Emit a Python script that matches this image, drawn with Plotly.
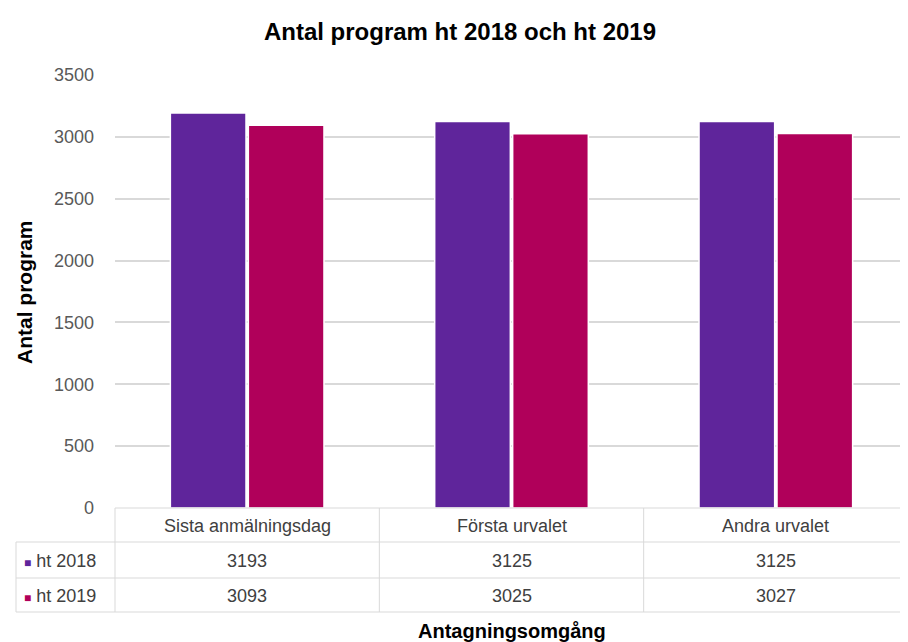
import plotly.graph_objects as go

# data
categories = ["Sista anmälningsdag", "Första urvalet", "Andra urvalet"]
series_names = ["ht 2018", "ht 2019"]
ht2018 = [3193, 3125, 3125]
ht2019 = [3093, 3025, 3027]
y_ticks = [0, 500, 1000, 1500, 2000, 2500, 3000, 3500]

colors = ["#5f259b", "#b0005a"]
FONT = "Liberation Sans, Arial, sans-serif"
GRID = "#d9d9d9"
TXT = "#404040"

# the page body has an 8px margin, so the figure is a bit smaller than the window
OFF = 8
W, H = 908 - OFF, 642 - OFF
L, R, T, B = 115 - OFF, 0, 75 - OFF, 642 - 508
plot_h = H - T - B


def py(pix):
    # window pixel row -> paper y
    return (H - B - (pix - OFF)) / plot_h


def px(pix):
    return (pix - OFF - L) / (W - L - R)


fig = go.Figure()
for name, vals, col in zip(series_names, [ht2018, ht2019], colors):
    fig.add_trace(go.Bar(
        x=categories, y=vals, name=name,
        marker=dict(color=col, line=dict(color="white", width=1.5)),
    ))

shapes = []
line = dict(color=GRID, width=1)
# table horizontal lines
shapes.append(dict(type="line", xref="paper", yref="paper",
                   x0=0, x1=1, y0=py(508), y1=py(508), line=line))
for row_y in [542, 578, 612]:
    shapes.append(dict(type="line", xref="paper", yref="paper",
                       x0=px(16), x1=1, y0=py(row_y), y1=py(row_y), line=line))
# vertical lines
shapes.append(dict(type="line", xref="paper", yref="paper",
                   x0=0, x1=0, y0=py(508), y1=py(612), line=line))
shapes.append(dict(type="line", xref="paper", yref="paper",
                   x0=px(16), x1=px(16), y0=py(542), y1=py(612), line=line))
for i in range(len(categories) - 1):
    shapes.append(dict(type="line", xref="x", yref="paper",
                       x0=i + 0.5, x1=i + 0.5, y0=py(508), y1=py(612), line=line))

annotations = []
row_mid = [526, 561, 596]
cell_font = dict(family=FONT, size=18, color=TXT)
for i, cat in enumerate(categories):
    annotations.append(dict(x=cat, xref="x", y=py(row_mid[0]), yref="paper",
                            xanchor="center", yanchor="middle",
                            text=cat, showarrow=False, font=cell_font))
    for r, vals in enumerate([ht2018, ht2019]):
        annotations.append(dict(x=cat, xref="x", y=py(row_mid[r + 1]), yref="paper",
                                xanchor="center", yanchor="middle",
                                text=str(vals[i]), showarrow=False, font=cell_font))
for r, (name, col) in enumerate(zip(series_names, colors)):
    annotations.append(dict(x=px(22), xref="paper", y=py(row_mid[r + 1]), yref="paper",
                            xanchor="left", yanchor="middle",
                            text=f"<span style='color:{col};font-size:12px'>■</span> {name}",
                            showarrow=False, font=cell_font))

# axis titles
annotations.append(dict(x=px(512), xref="paper", y=py(631), yref="paper",
                        xanchor="center", yanchor="middle",
                        text="<b>Antagningsomgång</b>", showarrow=False,
                        font=dict(family=FONT, size=20, color="black")))
annotations.append(dict(x=px(24), xref="paper", y=py(292), yref="paper",
                        xanchor="center", yanchor="middle",
                        text="<b>Antal program</b>", showarrow=False, textangle=-90,
                        font=dict(family=FONT, size=21, color="black")))

fig.update_layout(
    width=W, height=H,
    margin=dict(l=L, r=R, t=T, b=B),
    paper_bgcolor="white", plot_bgcolor="white",
    title=dict(text="<b>Antal program ht 2018 och ht 2019</b>", x=px(460), xref="paper",
               xanchor="center", y=1 - (32 - OFF) / H, yanchor="middle",
               font=dict(family=FONT, size=24, color="black")),
    showlegend=False,
    barmode="group", bargap=0.41, bargroupgap=0.03,
    shapes=shapes, annotations=annotations,
    font=dict(family=FONT),
)
fig.update_xaxes(showticklabels=False, showgrid=False, showline=False, ticks="")
fig.update_yaxes(range=[0, 3500], tickvals=y_ticks, gridcolor=GRID, gridwidth=2,
                 zeroline=False, showline=False, ticks="", ticklen=0,
                 tickfont=dict(family=FONT, size=18, color="#595959"),
                 ticklabelstandoff=20)

fig.write_html("out.html")
